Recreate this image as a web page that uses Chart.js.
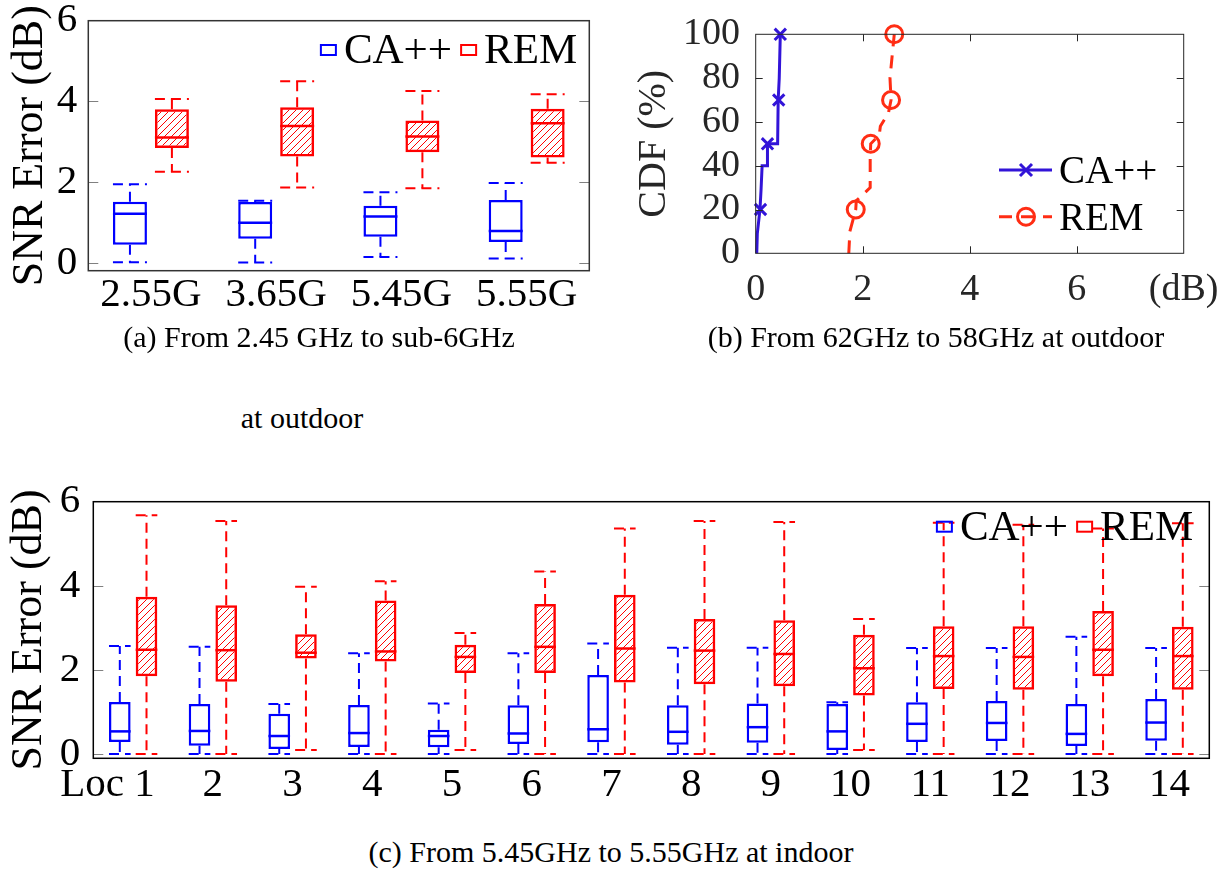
<!DOCTYPE html>
<html lang="en">
<head>
  <meta charset="UTF-8">
  <title>SNR error</title>
  <style>
    body {
      margin: 0;
      width: 1230px;
      height: 869px;
      position: relative;
      overflow: hidden;
      background: #fff;
    }
    canvas { position: absolute; }
    #chart-a { left: 0; top: 0; }
    #chart-b { left: 620px; top: 0; }
    #chart-c { left: 0; top: 480px; }
    .caption {
      position: absolute;
      font-family: "Liberation Serif", serif;
      font-size: 30px;
      line-height: 36px;
      text-align: center;
      white-space: nowrap;
      color: #000;
    }
  </style>
</head>
<body>
  <canvas id="chart-a" width="610" height="320"></canvas>
  <canvas id="chart-b" width="610" height="320"></canvas>
  <canvas id="chart-c" width="1230" height="330"></canvas>
  <div class="caption" style="left:119px; top:319px; width:400px">(a) From 2.45 GHz to sub-6GHz</div>
  <div class="caption" style="left:202px; top:400px; width:200px">at outdoor</div>
  <div class="caption" style="left:686px; top:319px; width:500px">(b) From 62GHz to 58GHz at outdoor</div>
  <div class="caption" style="left:311px; top:834px; width:600px">(c) From 5.45GHz to 5.55GHz at indoor</div>

  <script src="https://cdn.jsdelivr.net/npm/chart.js@4.4.9/dist/chart.umd.min.js"></script>
  <script>
    // (a) outdoor, 2.45 GHz -> sub-6 GHz
    const freqLabels = ['2.55G', '3.65G', '5.45G', '5.55G']
    const caMinA = [0.02, 0.01, 0.15, 0.11]
    const caQ1A = [0.45, 0.60, 0.65, 0.52]
    const caMedA = [1.22, 1.00, 1.15, 0.79]
    const caQ3A = [1.52, 1.51, 1.42, 1.56]
    const caMaxA = [1.95, 1.54, 1.75, 1.98]
    const remMinA = [2.26, 1.87, 1.85, 2.48]
    const remQ1A = [2.85, 2.64, 2.74, 2.61]
    const remMedA = [3.11, 3.39, 3.13, 3.46]
    const remQ3A = [3.81, 3.86, 3.53, 3.82]
    const remMaxA = [4.06, 4.50, 4.26, 4.18]
    const errTicks = [0, 2, 4, 6]

    // (b) CDF, 62 GHz -> 58 GHz outdoor
    const cdfCaX = [0.02, 0.03, 0.08, 0.10, 0.12, 0.22, 0.22, 0.41, 0.42, 0.44, 0.45, 0.46]
    const cdfCaY = [0, 9, 20, 29, 40, 40, 50, 50, 70, 80, 80, 100]
    const cdfCaMarkX = [0.09, 0.22, 0.43, 0.46]
    const cdfCaMarkY = [20, 50, 70, 100]
    const cdfRemX = [1.74, 1.76, 1.87, 1.88, 2.14, 2.14, 2.15, 2.31, 2.33, 2.48, 2.53, 2.51, 2.55, 2.59]
    const cdfRemY = [0, 10, 20, 24, 30, 44, 50, 54, 58, 64, 70, 80, 90, 100]
    const cdfRemMarkX = [1.87, 2.15, 2.53, 2.59]
    const cdfRemMarkY = [20, 50, 70, 100]
    const cdfXTicks = [0, 2, 4, 6, 8]
    const cdfXLabels = ['0', '2', '4', '6', '(dB)']
    const cdfYTicks = [0, 20, 40, 60, 80, 100]

    // (c) indoor, 5.45 GHz -> 5.55 GHz
    const locLabels = ['Loc 1', '2', '3', '4', '5', '6', '7', '8', '9', '10', '11', '12', '13', '14']
    const caMinC = [0, 0, 0, 0, 0, 0, 0, 0, 0, 0, 0, 0, 0, 0]
    const caQ1C = [0.29, 0.20, 0.12, 0.17, 0.16, 0.24, 0.28, 0.22, 0.27, 0.10, 0.29, 0.31, 0.19, 0.32]
    const caMedC = [0.54, 0.55, 0.43, 0.50, 0.43, 0.49, 0.59, 0.53, 0.64, 0.54, 0.72, 0.74, 0.48, 0.75]
    const caQ3C = [1.24, 1.19, 0.96, 1.17, 0.58, 1.16, 1.88, 1.16, 1.20, 1.19, 1.23, 1.26, 1.19, 1.31]
    const caMaxC = [2.57, 2.55, 1.19, 2.40, 1.20, 2.40, 2.63, 2.53, 2.53, 1.23, 2.52, 2.52, 2.79, 2.52]
    const remMinC = [0, 0, 0.10, 0, 0.10, 0, 0, 0, 0, 0.10, 0, 0, 0, 0]
    const remQ1C = [1.85, 1.72, 2.27, 2.20, 1.93, 1.93, 1.70, 1.66, 1.61, 1.39, 1.55, 1.53, 1.85, 1.53]
    const remMedC = [2.48, 2.47, 2.41, 2.44, 2.31, 2.55, 2.51, 2.46, 2.38, 2.04, 2.33, 2.31, 2.48, 2.33]
    const remQ3C = [3.74, 3.54, 2.85, 3.65, 2.60, 3.57, 3.79, 3.21, 3.18, 2.84, 3.04, 3.04, 3.40, 3.03]
    const remMaxC = [5.68, 5.54, 3.98, 4.11, 2.88, 4.34, 5.36, 5.54, 5.52, 3.21, 5.50, 5.45, 5.36, 5.49]

    const SERIF = '"Liberation Serif", serif'
    const BLUE = '#0000ff'
    const RED = '#ff0000'
    const CA_B = '#3214d8'
    const REM_B = '#ff2d14'
    const GREY_TXT = '#262626'

    function hatchFor(canvas) {
      const tile = document.createElement('canvas')
      tile.width = 7
      tile.height = 7
      const g = tile.getContext('2d')
      g.strokeStyle = RED
      g.lineWidth = 1
      g.beginPath()
      g.moveTo(0, 7); g.lineTo(7, 0)
      g.moveTo(-1, 1); g.lineTo(1, -1)
      g.moveTo(6, 8); g.lineTo(8, 6)
      g.stroke()
      return canvas.getContext('2d').createPattern(tile, 'repeat')
    }

    // median line + dashed whiskers on top of the floating bars
    function whiskers(series) {
      return {
        id: 'whiskers',
        afterDatasetsDraw(chart) {
          const { ctx } = chart
          const y = chart.scales.y
          series.forEach((s, di) => {
            chart.getDatasetMeta(di).data.forEach((bar, i) => {
              const { x, width } = bar.getProps(['x', 'width'], true)
              const l = x - width / 2
              const r = x + width / 2
              const yMin = y.getPixelForValue(s.min[i])
              const yQ1 = y.getPixelForValue(s.q1[i])
              const yMed = y.getPixelForValue(s.med[i])
              const yQ3 = y.getPixelForValue(s.q3[i])
              const yMax = y.getPixelForValue(s.max[i])
              ctx.save()
              ctx.strokeStyle = s.color
              ctx.lineWidth = 2.5
              ctx.beginPath()
              ctx.moveTo(l, yMed); ctx.lineTo(r, yMed)
              ctx.stroke()
              ctx.lineWidth = 2
              ctx.setLineDash([10, 6])
              ctx.beginPath()
              ctx.moveTo(x, yQ3); ctx.lineTo(x, yMax)
              ctx.moveTo(x, yQ1); ctx.lineTo(x, yMin)
              ctx.stroke()
              ctx.beginPath()
              ctx.moveTo(l, yMax); ctx.lineTo(r, yMax)
              ctx.moveTo(l, yMin); ctx.lineTo(r, yMin)
              ctx.stroke()
              ctx.restore()
            })
          })
        }
      }
    }

    // box around the plot with inward tick marks
    function frame(cfg) {
      return {
        id: 'frame',
        afterDraw(chart) {
          const { ctx, chartArea: a, scales } = chart
          ctx.save()
          ctx.strokeStyle = cfg.tickColor
          ctx.lineWidth = 1
          ctx.beginPath()
          for (const v of cfg.yTicks) {
            const py = Math.round(scales.y.getPixelForValue(v)) + 0.5
            ctx.moveTo(a.left, py); ctx.lineTo(a.left + cfg.len, py)
            ctx.moveTo(a.right, py); ctx.lineTo(a.right - cfg.len, py)
          }
          for (const v of cfg.xTicks || []) {
            const px = Math.round(scales.x.getPixelForValue(v)) + 0.5
            ctx.moveTo(px, a.bottom); ctx.lineTo(px, a.bottom - cfg.len)
            ctx.moveTo(px, a.top); ctx.lineTo(px, a.top + cfg.len)
          }
          ctx.stroke()
          ctx.strokeStyle = cfg.color
          ctx.lineWidth = cfg.width
          ctx.strokeRect(a.left, a.top, a.right - a.left, a.bottom - a.top)
          ctx.restore()
        }
      }
    }

    // "[] CA++ [] REM" legend inside the top right corner
    function boxLegend(cfg) {
      return {
        id: 'boxLegend',
        afterDraw(chart) {
          const { ctx, chartArea: a } = chart
          ctx.save()
          ctx.font = cfg.size + 'px ' + SERIF
          ctx.fillStyle = '#000'
          ctx.textAlign = 'left'
          ctx.textBaseline = 'alphabetic'
          let x = a.right - cfg.inset
          const sets = chart.data.datasets.slice().reverse()
          for (const ds of sets) {
            x -= ctx.measureText(ds.label).width
            ctx.fillText(ds.label, x, a.top + cfg.baseline)
            x -= 8 + 15
            ctx.strokeStyle = ds.borderColor
            ctx.lineWidth = 2
            ctx.strokeRect(x, a.top + cfg.boxTop, 15, 10)
            x -= 9
          }
          ctx.restore()
        }
      }
    }

    function boxChart(canvas, labels, ca, rem, geo) {
      const font = { family: SERIF, size: 41 }
      return new Chart(canvas, {
        type: 'bar',
        data: {
          labels,
          datasets: [
            {
              label: 'CA++',
              data: ca.q1.map((q, i) => [q, ca.q3[i]]),
              backgroundColor: '#ffffff',
              borderColor: BLUE,
              borderWidth: 2.5,
              borderSkipped: false,
              categoryPercentage: 0.67,
              barPercentage: 0.81
            },
            {
              label: 'REM',
              data: rem.q1.map((q, i) => [q, rem.q3[i]]),
              backgroundColor: hatchFor(canvas),
              borderColor: RED,
              borderWidth: 2.5,
              borderSkipped: false,
              categoryPercentage: 0.67,
              barPercentage: 0.81
            }
          ]
        },
        options: {
          responsive: false,
          animation: false,
          devicePixelRatio: 1,
          layout: { padding: { top: geo.top, right: geo.right, bottom: 0, left: 0 } },
          plugins: { legend: { display: false }, tooltip: { enabled: false } },
          scales: {
            x: {
              grid: { display: false, drawTicks: false },
              border: { display: false },
              ticks: {
                font,
                color: '#000',
                padding: geo.xPad,
                autoSkip: false,
                maxRotation: 0,
                minRotation: 0,
                callback: (v, i) => geo.xLabel(i)
              },
              afterFit(s) { s.height = geo.xHeight; s.paddingLeft = 0; s.paddingRight = 0 }
            },
            y: {
              min: geo.yMin,
              max: 6,
              afterBuildTicks(s) { s.ticks = errTicks.map(v => ({ value: v })) },
              grid: { display: false, drawTicks: false },
              border: { display: false },
              ticks: { font, color: '#000', padding: geo.yPad, autoSkip: false },
              title: {
                display: true,
                text: 'SNR Error (dB)',
                color: '#000',
                font: { family: SERIF, size: 44 },
                padding: { top: geo.titlePad, bottom: 0 }
              },
              afterFit(s) { s.width = geo.yWidth; s.paddingTop = 0; s.paddingBottom = 0 }
            }
          }
        },
        plugins: [
          whiskers([
            { color: BLUE, min: ca.min, q1: ca.q1, med: ca.med, q3: ca.q3, max: ca.max },
            { color: RED, min: rem.min, q1: rem.q1, med: rem.med, q3: rem.q3, max: rem.max }
          ]),
          frame({ yTicks: [0, 2, 4], len: 10, tickColor: '#808080', color: geo.frameColor, width: 1.5 }),
          boxLegend({ size: 43, inset: geo.legendInset, baseline: geo.legendBase, boxTop: geo.legendBox })
        ]
      })
    }

    boxChart(document.getElementById('chart-a'), freqLabels,
      { min: caMinA, q1: caQ1A, med: caMedA, q3: caQ3A, max: caMaxA },
      { min: remMinA, q1: remQ1A, med: remMedA, q3: remQ3A, max: remMaxA },
      {
        top: 20.7, right: 20.7, xHeight: 49.3, yWidth: 88.3, yMin: -0.19,
        xPad: 0, yPad: 11, titlePad: 4, frameColor: '#333333',
        legendInset: 12, legendBase: 42.3, legendBox: 24.3,
        xLabel: i => freqLabels[i]
      })

    boxChart(document.getElementById('chart-c'), locLabels,
      { min: caMinC, q1: caQ1C, med: caMedC, q3: caQ3C, max: caMaxC },
      { min: remMinC, q1: remQ1C, med: remMedC, q3: remQ3C, max: remMaxC },
      {
        top: 21.7, right: 20.7, xHeight: 51.7, yWidth: 93.3, yMin: -0.1,
        xPad: 2, yPad: 13, titlePad: 3, frameColor: '#000000',
        legendInset: 16, legendBase: 38.3, legendBox: 20,
        // trailing spaces push "Loc 1" left like the original
        xLabel: i => i === 0 ? locLabels[0] + '     ' : locLabels[i]
      })

    // line + marker legend for the CDF plot
    const cdfLegend = {
      id: 'cdfLegend',
      afterDraw(chart) {
        const { ctx } = chart
        const rows = [
          { label: 'CA++', color: CA_B, dash: [], mark: 'x', y: 170, base: 183.3 },
          { label: 'REM', color: REM_B, dash: [13, 9], mark: 'o', y: 216.7, base: 230 }
        ]
        ctx.save()
        for (const row of rows) {
          ctx.strokeStyle = row.color
          ctx.lineWidth = 3
          ctx.setLineDash(row.dash)
          ctx.beginPath()
          ctx.moveTo(379, row.y); ctx.lineTo(432, row.y)
          ctx.stroke()
          ctx.setLineDash([])
          ctx.beginPath()
          if (row.mark === 'x') {
            ctx.moveTo(400, row.y - 6); ctx.lineTo(412, row.y + 6)
            ctx.moveTo(400, row.y + 6); ctx.lineTo(412, row.y - 6)
          } else {
            ctx.arc(406, row.y, 8.5, 0, Math.PI * 2)
          }
          ctx.stroke()
          ctx.font = '39px ' + SERIF
          ctx.fillStyle = '#000'
          ctx.textAlign = 'left'
          ctx.textBaseline = 'alphabetic'
          ctx.fillText(row.label, 439, row.base)
        }
        ctx.restore()
      }
    }

    const tickFontB = { family: SERIF, size: 38 }
    new Chart(document.getElementById('chart-b'), {
      type: 'line',
      data: {
        datasets: [
          {
            label: 'CA++',
            data: cdfCaX.map((x, i) => ({ x, y: cdfCaY[i] })),
            borderColor: CA_B,
            borderWidth: 3,
            pointRadius: 0,
            tension: 0,
            clip: false
          },
          {
            label: 'CA++ marks',
            data: cdfCaMarkX.map((x, i) => ({ x, y: cdfCaMarkY[i] })),
            showLine: false,
            pointStyle: 'crossRot',
            pointRadius: 8,
            pointBorderWidth: 3,
            pointBorderColor: CA_B,
            clip: false
          },
          {
            label: 'REM',
            data: cdfRemX.map((x, i) => ({ x, y: cdfRemY[i] })),
            borderColor: REM_B,
            borderWidth: 3,
            borderDash: [13, 9],
            pointRadius: 0,
            tension: 0,
            clip: false
          },
          {
            label: 'REM marks',
            data: cdfRemMarkX.map((x, i) => ({ x, y: cdfRemMarkY[i] })),
            showLine: false,
            pointStyle: 'circle',
            pointRadius: 8.5,
            pointBorderWidth: 3,
            pointBorderColor: REM_B,
            pointBackgroundColor: 'rgba(0,0,0,0)',
            clip: false
          }
        ]
      },
      options: {
        responsive: false,
        animation: false,
        devicePixelRatio: 1,
        layout: { padding: { top: 34.3, right: 46.3, bottom: 0, left: 0 } },
        plugins: { legend: { display: false }, tooltip: { enabled: false } },
        scales: {
          x: {
            type: 'linear',
            min: 0,
            max: 8,
            afterBuildTicks(s) { s.ticks = cdfXTicks.map(v => ({ value: v })) },
            grid: { display: false, drawTicks: false },
            border: { display: false },
            ticks: {
              font: tickFontB,
              color: GREY_TXT,
              padding: 14,
              autoSkip: false,
              maxRotation: 0,
              callback: (v, i) => cdfXLabels[i]
            },
            afterFit(s) { s.height = 66.7; s.paddingLeft = 0; s.paddingRight = 0 }
          },
          y: {
            min: 0,
            max: 100,
            afterBuildTicks(s) { s.ticks = cdfYTicks.map(v => ({ value: v })) },
            grid: { display: false, drawTicks: false },
            border: { display: false },
            ticks: { font: tickFontB, color: GREY_TXT, padding: 15.7, autoSkip: false },
            title: {
              display: true,
              text: 'CDF (%)',
              color: GREY_TXT,
              font: { family: SERIF, size: 40 },
              padding: { top: 10, bottom: 0 }
            },
            afterFit(s) { s.width = 135.7; s.paddingTop = 0; s.paddingBottom = 0 }
          }
        }
      },
      plugins: [
        frame({ yTicks: [20, 40, 60, 80], xTicks: [2, 4, 6], len: 7, tickColor: GREY_TXT, color: GREY_TXT, width: 1 }),
        cdfLegend
      ]
    })
  </script>
</body>
</html>
